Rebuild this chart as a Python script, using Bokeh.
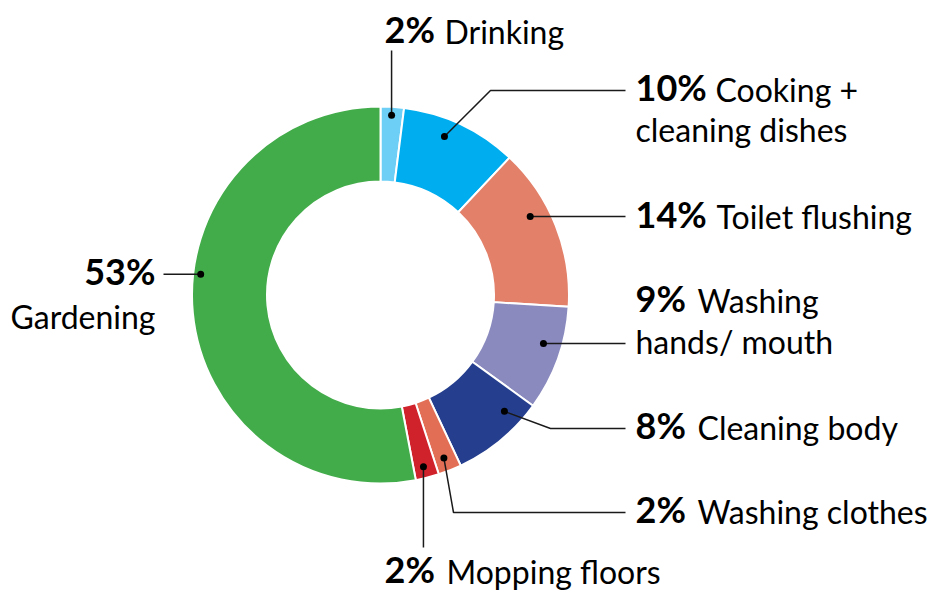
import math
from bokeh.plotting import figure
from bokeh.models import Range1d, ColumnDataSource
from bokeh.core.properties import value
from bokeh.embed import file_html
from bokeh.resources import INLINE

# ---- data ----
categories = ["Drinking", "Cooking + cleaning dishes", "Toilet flushing",
              "Washing hands/ mouth", "Cleaning body", "Washing clothes",
              "Mopping floors", "Gardening"]
shares = [2, 10, 14, 9, 8, 2, 2, 53]
colors = ["#6dcff6", "#00aeef", "#e2806a", "#8a8abf", "#253f8e",
          "#e26f55", "#d0222b", "#43ac4a"]
pct_labels = ["2%", "10%", "14%", "9%", "8%", "2%", "2%", "53%"]

# ---- layout (image pixel coords; data y = H - image y) ----
W, H = 944, 591
def Y(iy):
    return H - iy

CX, CY = 380, Y(294.5)
R_OUT, R_IN = 188.5, 113.5

p = figure(width=W, height=H, output_backend="svg", toolbar_location=None,
           x_range=Range1d(0, W), y_range=Range1d(0, H),
           min_border=0)
p.axis.visible = False
p.grid.visible = False
p.outline_line_color = None
p.background_fill_color = "white"
p.border_fill_color = "white"

total = sum(shares)
starts, ends, cum = [], [], 0.0
for s in shares:
    a0 = cum / total * 2 * math.pi
    cum += s
    a1 = cum / total * 2 * math.pi
    starts.append(math.pi / 2 - a0)
    ends.append(math.pi / 2 - a1)

src = ColumnDataSource(dict(start=starts, end=ends, color=colors))
p.annular_wedge(x=CX, y=CY, inner_radius=R_IN, outer_radius=R_OUT,
                start_angle="start", end_angle="end", direction="clock",
                fill_color="color", line_color="white", line_width=2, source=src)

# leader anchors: fraction along slice and radius
dot_frac = [0.49, 0.41, 0.38, 0.40, 0.25, 0.55, 0.55, 0.563]
dot_r = [180, 171, 169, 170, 170, 175, 177, 181]
dots_x, dots_y = [], []
cum = 0.0
for s, f, r in zip(shares, dot_frac, dot_r):
    ang = (cum + f * s) / total * 2 * math.pi  # clockwise from top
    cum += s
    dots_x.append(CX + r * math.sin(ang))
    dots_y.append(CY + r * math.cos(ang))

# leader paths (after the dot)
elbows = [
    [(None, Y(50))],                 # Drinking: vertical up
    [(490, Y(90)), (625, Y(90))],    # Cooking
    [(625, None)],                   # Toilet
    [(625, None)],                   # Hands
    [(550, Y(428)), (625, Y(428))],  # Body
    [(453, Y(512)), (625, Y(512))],  # Clothes
    [(None, Y(547))],                # Mopping: vertical down
    [(163, None)],                   # Gardening
]
xs, ys = [], []
for dx, dy, el in zip(dots_x, dots_y, elbows):
    lx, ly = [dx], [dy]
    for ex, ey in el:
        lx.append(dx if ex is None else ex)
        ly.append(dy if ey is None else ey)
    xs.append(lx)
    ys.append(ly)
p.multi_line(xs=xs, ys=ys, line_color="#1a1a1a", line_width=1.5)
p.scatter(x=dots_x, y=dots_y, size=7, fill_color="black", line_color=None)

# ---- labels ----
FONT = value("Lato")
FSZ_B = 36
FSZ_R = 32
def TY(iy, fs):
    return Y(iy) + 0.45 * fs  # baseline compensation

bold_x = [384, 635, 635, 635, 635, 635, 384, 155]
bold_base = [45, 103, 230, 314, 441, 525, 585, 287]
bold_y = [TY(b, FSZ_B) for b in bold_base]
p.text(x=bold_x[:7], y=bold_y[:7], text=pct_labels[:7], text_font=FONT,
       text_font_style="bold", text_font_size=f"{FSZ_B}px", text_align="left",
       text_baseline="alphabetic", text_color="black")
p.text(x=bold_x[7:], y=bold_y[7:], text=pct_labels[7:], text_font=FONT,
       text_font_style="bold", text_font_size=f"{FSZ_B}px", text_align="right",
       text_baseline="alphabetic", text_color="black")

reg_text = ["Drinking", "Cooking +", "cleaning dishes", "Toilet flushing",
            "Washing", "hands/ mouth", "Cleaning body", "Washing clothes",
            "Mopping floors"]
reg_x = [444, 715, 635, 716, 697, 635, 697, 697, 446]
reg_base = [45, 103, 143, 230, 314, 355, 441, 525, 585]
reg_y = [TY(b, FSZ_R) for b in reg_base]
p.text(x=reg_x, y=reg_y, text=reg_text, text_font=FONT, text_font_size=f"{FSZ_R}px",
       text_align="left", text_baseline="alphabetic", text_color="black")
p.text(x=[155], y=[TY(330, FSZ_R)], text=["Gardening"], text_font=FONT,
       text_font_size=f"{FSZ_R}px", text_align="right", text_baseline="alphabetic",
       text_color="black")

open("out.html", "w").write(file_html(p, INLINE))
